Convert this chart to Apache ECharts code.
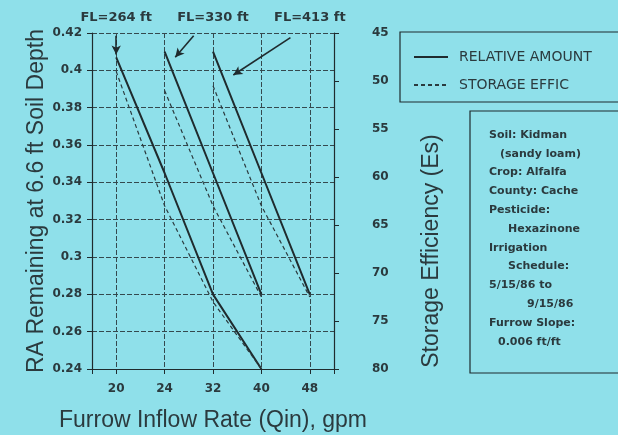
<!DOCTYPE html>
<html>
<head>
<meta charset="utf-8">
<script src="https://cdn.jsdelivr.net/npm/echarts@6/dist/echarts.min.js"></script>
<style>
  html, body { margin: 0; padding: 0; background: #8fe0ea; }
  #main { width: 618px; height: 435px; }
</style>
</head>
<body>
<div id="main"></div>
<script>
// furrow inflow rates (gpm), plotted evenly spaced
var categories = ['20', '24', '32', '40', '48'];
// furrow length labels over the first point of each pair
var flLabels = ['FL=264 ft', '', 'FL=330 ft', '', 'FL=413 ft'];

// RA remaining at 6.6 ft soil depth (left axis)
var raFL264 = [0.407, 0.345, 0.28, 0.24, null];
var raFL330 = [null, 0.41, 0.345, 0.28, null];
var raFL413 = [null, null, 0.41, 0.345, 0.28];

// storage efficiency Es (right axis, reversed)
var esFL264 = [49, 63, 73, 80, null];
var esFL330 = [null, 51, 63, 72.5, null];
var esFL413 = [null, null, 50.5, 63, 72.5];

var infoLines = [
  ['Soil: Kidman', 0], ['(sandy loam)', 11], ['Crop: Alfalfa', 0], ['County: Cache', 0],
  ['Pesticide:', 0], ['Hexazinone', 19], ['Irrigation', 0], ['Schedule:', 19],
  ['5/15/86 to', 0], ['9/15/86', 38], ['Furrow Slope:', 0], ['0.006 ft/ft', 9]
];

var ink = '#1f2b2e';
var txt = '#2b3a3e';
var tickFont = 'DejaVu Sans, sans-serif';
var nameFont = 'Liberation Sans, Arial, sans-serif';

function toPairs(arr) {
  var out = [];
  arr.forEach(function (v, i) { if (v != null) out.push([i, v]); });
  return out;
}

function raSeries(arr, arrow) {
  return {
    type: 'line', name: 'RELATIVE AMOUNT', yAxisIndex: 0,
    data: toPairs(arr), symbol: 'none',
    lineStyle: { color: ink, width: 2 }, itemStyle: { color: ink },
    markLine: {
      silent: true, symbol: ['none', 'arrow'], symbolSize: [7, 9],
      label: { show: false },
      lineStyle: { color: ink, width: 1.6, type: 'solid' },
      data: [[{ coord: arrow[0] }, { coord: arrow[1] }]]
    }
  };
}

function esSeries(arr) {
  return {
    type: 'line', name: 'STORAGE EFFIC', yAxisIndex: 1,
    data: toPairs(arr), symbol: 'none',
    lineStyle: { color: txt, width: 1.2, type: [4, 3] }, itemStyle: { color: txt }
  };
}

var chart = echarts.init(document.getElementById('main'));

var gridLine = { show: true, lineStyle: { color: '#34494e', width: 1, type: [5, 2] } };

var option = {
  animation: false,
  backgroundColor: '#8fe0ea',
  grid: { left: 92, right: 284, top: 33, bottom: 66, outerBoundsMode: 'none' },
  legend: {
    orient: 'vertical', left: 408, top: 45, itemWidth: 34, itemHeight: 14, itemGap: 14,
    data: ['RELATIVE AMOUNT', 'STORAGE EFFIC'],
    itemStyle: { opacity: 0 },
    textStyle: { color: txt, fontFamily: tickFont, fontSize: 14, padding: [0, 0, 0, 6] }
  },
  xAxis: [{
    type: 'value', min: -0.5, max: 4.5,
    name: 'Furrow Inflow Rate (Qin), gpm', nameLocation: 'middle', nameGap: 40,
    nameTextStyle: { color: txt, fontFamily: nameFont, fontSize: 23 },
    axisLine: { show: true, onZero: false, lineStyle: { color: ink, width: 1.2 } },
    axisTick: { show: true, length: 5, lineStyle: { color: ink } },
    axisLabel: {
      margin: 14, color: txt, fontFamily: tickFont, fontWeight: 'bold', fontSize: 12,
      formatter: function (v) { return Number.isInteger(v) ? categories[v] : ''; }
    },
    splitLine: gridLine
  }, {
    type: 'value', position: 'top', min: -0.5, max: 4.5,
    axisLine: { show: false, onZero: false }, axisTick: { show: false }, splitLine: { show: false },
    axisLabel: {
      margin: 9, color: txt, fontFamily: tickFont, fontWeight: 'bold', fontSize: 13,
      formatter: function (v) { return Number.isInteger(v) ? flLabels[v] : ''; }
    }
  }],
  yAxis: [{
    type: 'value', min: 0.24, max: 0.42, interval: 0.02,
    name: 'RA Remaining at 6.6 ft Soil Depth', nameLocation: 'middle', nameGap: 43,
    nameTextStyle: { color: txt, fontFamily: nameFont, fontSize: 23 },
    axisLine: { show: true, onZero: false, lineStyle: { color: ink, width: 1.2 } },
    axisTick: { show: true, length: 5, lineStyle: { color: ink } },
    axisLabel: { margin: 10, color: txt, fontFamily: tickFont, fontWeight: 'bold', fontSize: 12 },
    splitLine: gridLine
  }, {
    type: 'value', position: 'right', inverse: true, min: 45, max: 80, interval: 5,
    name: 'Storage Efficiency (Es)', nameLocation: 'middle', nameGap: 86,
    nameTextStyle: { color: txt, fontFamily: nameFont, fontSize: 23, padding: [0, 100, 0, 0] },
    axisLine: { show: true, onZero: false, lineStyle: { color: ink, width: 1.2 } },
    axisTick: { show: true, length: 5, lineStyle: { color: ink } },
    axisLabel: { margin: 38, color: txt, fontFamily: tickFont, fontWeight: 'bold', fontSize: 12 },
    splitLine: { show: false }
  }],
  series: [
    raSeries(raFL264, [[0, 0.4185], [0, 0.4085]]),
    raSeries(raFL330, [[1.6, 0.4185], [1.22, 0.407]]),
    raSeries(raFL413, [[3.6, 0.4175], [2.42, 0.3975]]),
    esSeries(esFL264),
    esSeries(esFL330),
    esSeries(esFL413)
  ],
  graphic: [
    { type: 'rect', silent: true, shape: { x: 400, y: 32, width: 230, height: 70 },
      style: { fill: 'none', stroke: ink, lineWidth: 1.2 } },
    { type: 'rect', silent: true, shape: { x: 470, y: 111, width: 160, height: 262 },
      style: { fill: 'none', stroke: ink, lineWidth: 1.2 } }
  ].concat(infoLines.map(function (l, i) {
    return {
      type: 'text', silent: true, x: 489 + l[1], y: 135 + i * 18.8,
      style: { text: l[0], fill: txt, font: 'bold 11px ' + tickFont, verticalAlign: 'middle' }
    };
  }))
};

chart.setOption(option);
</script>
</body>
</html>
